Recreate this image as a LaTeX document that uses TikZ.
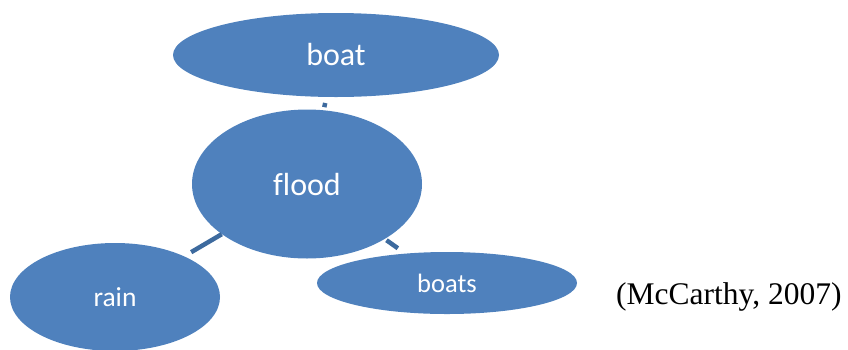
\documentclass[tikz,border=0pt]{standalone}
\usepackage{fontspec}
\usetikzlibrary{shapes.geometric}
\setmainfont{Carlito}[Ligatures=NoCommon]
\newfontfamily\citefont{Liberation Serif}
\definecolor{bubble}{HTML}{4F81BD}
\definecolor{linkcol}{HTML}{3D6A9E}
\begin{document}
\begin{tikzpicture}[x=1pt,y=-1pt,
  bubble/.style={ellipse,fill=bubble,draw=none,inner sep=0pt,text=white},
  link/.style={draw=linkcol,line width=4.5pt}]
\useasboundingbox (0,0) rectangle (848,349);
\node[bubble,minimum width=326pt,minimum height=84pt,font=\fontsize{32}{36}\selectfont] (boat) at (336,55) {boat};
\node[bubble,minimum width=230pt,minimum height=149pt,font=\fontsize{32}{36}\selectfont] (flood) at (307,184) {flood};
\node[bubble,minimum width=210pt,minimum height=108pt,font=\fontsize{27.5}{32}\selectfont] (rain) at (115,297) {rain};
\node[bubble,minimum width=260pt,minimum height=62pt,font=\fontsize{26.5}{30}\selectfont] (boats) at (447,283) {boats};
\node[anchor=base west,inner sep=0pt,font=\citefont\fontsize{31.5}{36}\selectfont] (cite) at (616,304) {(McCarthy, 2007)};
\draw[link,shorten <=6pt,shorten >=3pt] (boat) -- (flood);
\draw[link,shorten <=0pt,shorten >=8pt] (flood) -- (rain);
\draw[link,shorten <=2pt,shorten >=9pt] (flood) -- (boats);
\end{tikzpicture}
\end{document}
